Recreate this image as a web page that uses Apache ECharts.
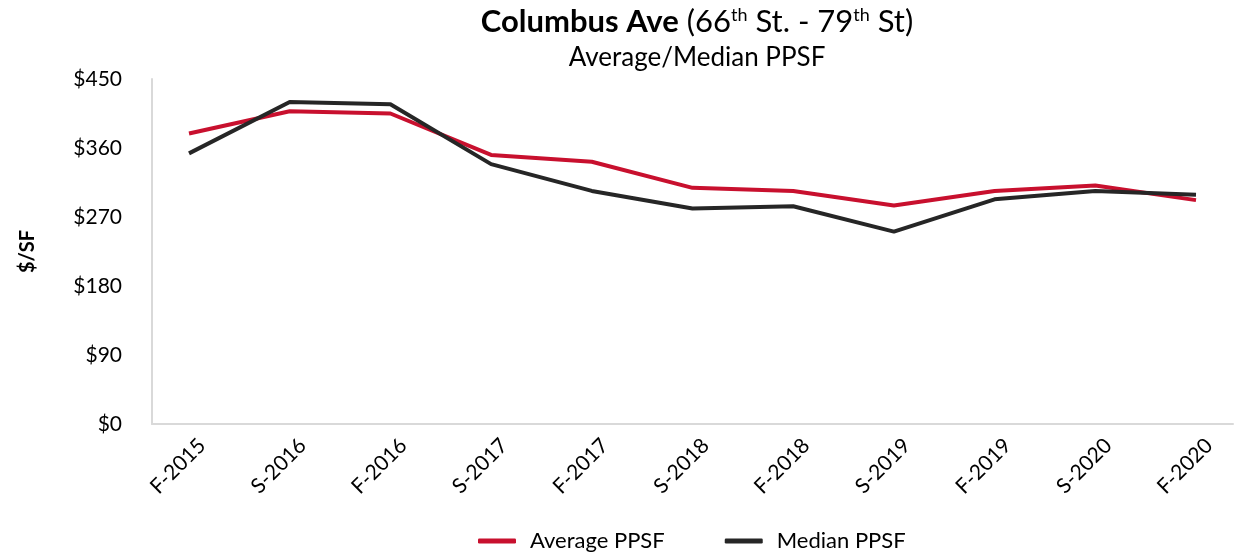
<!DOCTYPE html>
<html style="height: 100%">
<head>
<meta charset="utf-8">
<script src="https://cdn.jsdelivr.net/npm/echarts@6/dist/echarts.min.js"></script>
</head>
<body style="width: 100%; height: 100%; margin: 0; background: #fff">
<div id="main" style="width: 1236px; height: 554px;"></div>
<script type="text/javascript">
// data
var categories = ['F-2015', 'S-2016', 'F-2016', 'S-2017', 'F-2017', 'S-2018', 'F-2018', 'S-2019', 'F-2019', 'S-2020', 'F-2020'];
var averagePPSF = [379, 408, 405, 351, 342, 308, 304, 285, 304, 311, 292];
var medianPPSF = [353, 420, 417, 339, 304, 281, 284, 251, 293, 304, 299];
var yTicks = [0, 90, 180, 270, 360, 450];

var font = 'Lato';
var myChart = echarts.init(document.getElementById('main'));

var option = {
    backgroundColor: '#fff',
    textStyle: { fontFamily: font },
    title: [
        {
            left: 692, top: 1, textAlign: 'center',
            text: '{b|Columbus Ave}{n| (66}{s|th}{n| St. - 79}{s|th}{n| St)}',
            textStyle: {
                fontWeight: 'normal',
                rich: {
                    b: { fontFamily: font, fontSize: 31, fontWeight: 'bold', color: '#000' },
                    n: { fontFamily: font, fontSize: 31, fontWeight: 'normal', color: '#000' },
                    s: { fontFamily: font, fontSize: 18, fontWeight: 'normal', color: '#000', verticalAlign: 'top', padding: [0, 0, 14, 0] }
                }
            }
        },
        {
            left: 692, top: 40, textAlign: 'center',
            text: 'Average/Median PPSF',
            textStyle: { fontFamily: font, fontSize: 26, fontWeight: 'normal', color: '#000' }
        }
    ],
    legend: {
        top: 525, left: 473,
        itemWidth: 38, itemHeight: 5, itemGap: 60,
        icon: 'roundRect',
        textStyle: { fontFamily: font, fontSize: 22, color: '#000', padding: [0, 0, 0, 9] },
        data: ['Average PPSF', 'Median PPSF']
    },
    grid: [
        // frame grid: axis lines and y labels
        { left: 152, right: 3, top: 79, bottom: 130 },
        // data grid: points inset from frame like the original
        { left: 189, right: 40, top: 79, bottom: 130 },
        // label grid: rotated category labels sit a little right of the points
        { left: 202, right: 27, top: 79, bottom: 130 }
    ],
    xAxis: [
        {
            gridIndex: 0, type: 'value', min: 0, max: 1,
            axisLine: { show: true, lineStyle: { color: '#d9d9d9', width: 2 } },
            axisTick: { show: false }, axisLabel: { show: false }, splitLine: { show: false }
        },
        {
            gridIndex: 1, type: 'category', boundaryGap: false, data: categories,
            axisLine: { show: false }, axisTick: { show: false }, splitLine: { show: false },
            axisLabel: { show: false }
        },
        {
            gridIndex: 2, type: 'category', boundaryGap: false, data: categories,
            axisLine: { show: false }, axisTick: { show: false }, splitLine: { show: false },
            axisLabel: { rotate: 45, margin: 18, fontSize: 21, color: '#000', fontFamily: font }
        }
    ],
    yAxis: [
        {
            gridIndex: 0, type: 'value', min: yTicks[0], max: yTicks[yTicks.length - 1], interval: 90,
            name: '$/SF', nameLocation: 'middle', nameGap: 114, nameRotate: 90,
            nameTextStyle: { fontFamily: font, fontSize: 20, fontWeight: 'bold', color: '#000' },
            axisLine: { show: true, lineStyle: { color: '#d9d9d9', width: 2 } },
            axisTick: { show: false }, splitLine: { show: false },
            axisLabel: { margin: 30, fontSize: 21, color: '#000', fontFamily: font, formatter: function (v) { return '$' + v; } }
        },
        {
            gridIndex: 1, type: 'value', min: yTicks[0], max: yTicks[yTicks.length - 1], interval: 90,
            show: false, splitLine: { show: false }
        },
        {
            gridIndex: 2, type: 'value', min: yTicks[0], max: yTicks[yTicks.length - 1], interval: 90,
            show: false, splitLine: { show: false }
        }
    ],
    series: [
        {
            name: 'Average PPSF', type: 'line', xAxisIndex: 1, yAxisIndex: 1,
            data: averagePPSF, showSymbol: false, symbol: 'none',
            color: '#C8102E', lineStyle: { width: 4, color: '#C8102E' }
        },
        {
            name: 'Median PPSF', type: 'line', xAxisIndex: 1, yAxisIndex: 1,
            data: medianPPSF, showSymbol: false, symbol: 'none',
            color: '#262626', lineStyle: { width: 4, color: '#262626' }
        }
    ]
};
myChart.setOption(option);
</script>
</body>
</html>
